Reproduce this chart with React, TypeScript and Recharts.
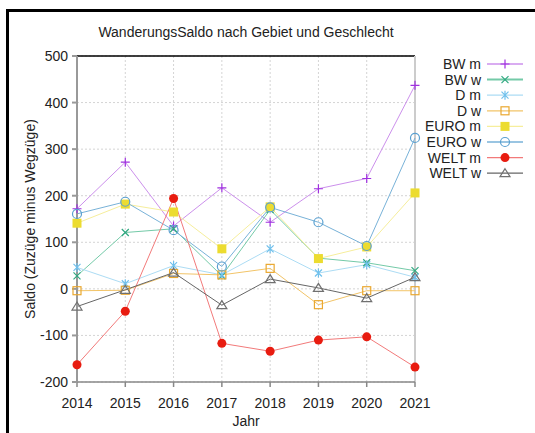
import React from 'react';
import { LineChart, Line, XAxis, YAxis, CartesianGrid, ReferenceLine } from 'recharts';

const years = ['2014', '2015', '2016', '2017', '2018', '2019', '2020', '2021'];
const bwM = [172, 272, 135, 217, 143, 215, 237, 437];
const bwW = [28, 121, 129, 28, 170, 66, 56, 39];
const dM = [46, 11, 50, 30, 86, 34, 52, 25];
const dW = [-4, -3, 33, 30, 44, -34, -4, -4];
const euroM = [141, 182, 165, 86, 176, 65, 90, 206];
const euroW = [161, 187, 126, 48, 175, 143, 92, 324];
const weltM = [-163, -48, 194, -117, -134, -110, -103, -168];
const weltW = [-38, -2, 35, -35, 21, 2, -20, 25];
const yTicks = [-200, -100, 0, 100, 200, 300, 400, 500];

type Shape = 'plus' | 'cross' | 'star' | 'square' | 'fsquare' | 'circle' | 'fcircle' | 'triangle';

interface SeriesDef {
    key: string;
    name: string;
    values: number[];
    line: string;
    mark: string;
    shape: Shape;
}

const series: SeriesDef[] = [
    { key: 'bwM', name: 'BW m', values: bwM, line: '#cc90ec', mark: '#a030e0', shape: 'plus' },
    { key: 'bwW', name: 'BW w', values: bwW, line: '#74caa8', mark: '#30a880', shape: 'cross' },
    { key: 'dM', name: 'D m', values: dM, line: '#acdcf4', mark: '#70c0ec', shape: 'star' },
    { key: 'dW', name: 'D w', values: dW, line: '#f2c468', mark: '#eaa830', shape: 'square' },
    { key: 'euroM', name: 'EURO m', values: euroM, line: '#f6ee9c', mark: '#ecdc30', shape: 'fsquare' },
    { key: 'euroW', name: 'EURO w', values: euroW, line: '#78b2d8', mark: '#5aa0d0', shape: 'circle' },
    { key: 'weltM', name: 'WELT m', values: weltM, line: '#f27a7a', mark: '#e81c10', shape: 'fcircle' },
    { key: 'weltW', name: 'WELT w', values: weltW, line: '#666', mark: '#707070', shape: 'triangle' },
];

const rows = years.map((y, i) => {
    const r: Record<string, any> = { year: y };
    series.forEach((s) => { r[s.key] = s.values[i]; });
    return r;
});

const marker = (shape: Shape, cx: number, cy: number, c: string, key?: string) => {
    switch (shape) {
        case 'plus':
            return <path key={key} d={`M${cx - 4.5},${cy}H${cx + 4.5}M${cx},${cy - 4.5}V${cy + 4.5}`} stroke={c} strokeWidth={1.2} fill="none" />;
        case 'cross':
            return <path key={key} d={`M${cx - 3.5},${cy - 3.5}L${cx + 3.5},${cy + 3.5}M${cx - 3.5},${cy + 3.5}L${cx + 3.5},${cy - 3.5}`} stroke={c} strokeWidth={1.2} fill="none" />;
        case 'star':
            return <path key={key} d={`M${cx - 3.5},${cy - 3.5}L${cx + 3.5},${cy + 3.5}M${cx - 3.5},${cy + 3.5}L${cx + 3.5},${cy - 3.5}M${cx},${cy - 4.5}V${cy + 4.5}`} stroke={c} strokeWidth={1.2} fill="none" />;
        case 'square':
            return <rect key={key} x={cx - 4} y={cy - 4} width={8} height={8} stroke={c} strokeWidth={1.2} fill="none" />;
        case 'fsquare':
            return <rect key={key} x={cx - 4.5} y={cy - 4.5} width={9} height={9} fill={c} />;
        case 'circle':
            return <circle key={key} cx={cx} cy={cy} r={4.5} stroke={c} strokeWidth={1.2} fill="none" />;
        case 'fcircle':
            return <circle key={key} cx={cx} cy={cy} r={4.5} fill={c} />;
        case 'triangle':
            return <path key={key} d={`M${cx},${cy - 4.5}L${cx + 5},${cy + 3.5}L${cx - 5},${cy + 3.5}Z`} stroke={c} strokeWidth={1.2} fill="none" />;
    }
    return null;
};

const LegendBox = () => (
    <svg width={110} height={135} style={{ position: 'absolute', left: 420, top: 56 }}>
        {series.map((s, i) => {
            const y = 8 + i * 15.6;
            return (
                <g key={s.key}>
                    <text x={61} y={y + 5} textAnchor="end" fontSize={14} fill="#222" fontFamily="Liberation Sans, Arial">{s.name}</text>
                    <line x1={67} x2={103} y1={y} y2={y} stroke={s.line} strokeWidth={s.key === 'bwW' ? 2 : 1.3} />
                    {marker(s.shape, 85, y, s.mark)}
                </g>
            );
        })}
    </svg>
);

export default function App() {
    return (
        <div style={{ position: 'fixed', left: 0, top: 0, width: 535, height: 433, background: '#fff', overflow: 'hidden', fontFamily: 'Liberation Sans, Arial, sans-serif' }}>
            <div style={{ position: 'absolute', left: 6, top: 9, width: 700, height: 600, borderLeft: '3px solid #000', borderTop: '3px solid #000' }} />
            <div style={{ position: 'absolute', left: 0, top: 0 }}>
                <LineChart width={535} height={433} data={rows} margin={{ top: 56, right: 120, bottom: 21, left: 0 }}>
                    <CartesianGrid stroke="#d4d4d4" strokeDasharray="2 2" />
                    <XAxis
                        dataKey="year"
                        stroke="#888"
                        strokeWidth={1.5}
                        height={30}
                        tickSize={5}
                        tick={{ fill: '#222', fontSize: 14 }}
                        tickMargin={11}
                        interval={0}
                    />
                    <YAxis
                        domain={[-200, 500]}
                        ticks={yTicks}
                        width={77}
                        stroke="#999"
                        strokeWidth={2}
                        tickSize={5}
                        tick={{ fill: '#222', fontSize: 14 }}
                        tickMargin={4}
                        interval={0}
                    />
                    <ReferenceLine y={500} stroke="#000" strokeWidth={1.5} />
                    <ReferenceLine x="2021" stroke="#ccc" strokeWidth={2} />
                    {series.map((s) => (
                        <Line
                            key={s.key}
                            dataKey={s.key}
                            name={s.name}
                            stroke={s.line}
                            strokeWidth={1}
                            isAnimationActive={false}
                            dot={(p: any) => marker(s.shape, p.cx, p.cy, s.mark, `${s.key}-${p.index}`)}
                            activeDot={false}
                        />
                    ))}
                </LineChart>
            </div>
            <LegendBox />
            <div style={{ position: 'absolute', left: 0, width: 492, top: 24, textAlign: 'center', fontSize: 14, color: '#222' }}>
                WanderungsSaldo nach Gebiet und Geschlecht
            </div>
            <div style={{ position: 'absolute', left: 0, width: 492, top: 413, textAlign: 'center', fontSize: 14, color: '#222' }}>
                Jahr
            </div>
            <div style={{ position: 'absolute', left: 30, top: 220, width: 300, marginLeft: -150, marginTop: -9, textAlign: 'center', fontSize: 14, color: '#222', transform: 'rotate(-90deg)' }}>
                Saldo (Zuzüge minus Wegzüge)
            </div>
        </div>
    );
}
